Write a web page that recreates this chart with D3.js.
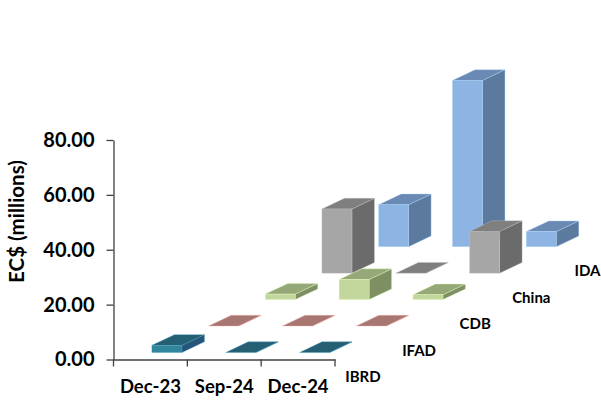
<!DOCTYPE html>
<html lang="en">
<head>
    <meta charset="UTF-8">
    <title>EC$ (millions)</title>
    <script src="https://d3js.org/d3.v7.min.js"></script>
    <style>
        body { margin: 0; padding: 0; background: #fff; }
        svg { display: block; }
        text { font-family: Lato, "Open Sans", sans-serif; font-weight: 700; fill: #000; }
        .axis path, .axis line, .edge-tick { stroke: #404040; stroke-width: 1.3px; fill: none; }
    </style>
</head>
<body>
    <div id="chart"></div>
    <script>
        // Data, front series first
        const periods = ["Dec-23", "Sep-24", "Dec-24"];
        const seriesNames = ["IBRD", "IFAD", "CDB", "China", "IDA"];
        const ibrd = [2.6, 0, 0];
        const ifad = [0, 0, 0];
        const cdb = [2, 7.3, 1.8];
        const china = [23.4, 0, 15.2];
        const ida = [15.3, 60.6, 5.5];
        const yTicks = [0, 20, 40, 60, 80];

        const seriesValues = [ibrd, ifad, cdb, china, ida];
        // front, top and side shades per series
        const shades = [
            ["#31859c", "#245f73", "#25567a"],
            ["#d99694", "#a87772", "#8f5f5c"],
            ["#c3d69b", "#95a878", "#7e8f63"],
            ["#a6a6a6", "#7f7f7f", "#6b6b6b"],
            ["#8db4e2", "#6a8ab3", "#5c7a9e"]
        ];

        const width = 601, height = 401;
        const barWidth = 30, sideX = 22.5, sideY = 10.7, floorLift = 7;

        const svg = d3.select("#chart").append("svg")
            .attr("width", width)
            .attr("height", height);

        const x = d3.scaleBand().domain(periods).range([113.5, 335]);
        const y = d3.scaleLinear().domain([0, 80]).range([359.5, 140]);
        // how far each series sits into the chart
        const depthX = d3.scalePoint().domain(seriesNames).range([0, 226.7]);
        const depthY = d3.scalePoint().domain(seriesNames).range([0, -105.8]);

        // Axes
        const yAxis = svg.append("g")
            .attr("class", "axis")
            .attr("transform", "translate(113.5,0)")
            .call(d3.axisLeft(y).tickValues(yTicks).tickFormat(d3.format(".2f"))
                .tickSize(7).tickSizeOuter(0).tickPadding(12));
        yAxis.selectAll("text").style("font-size", "20px");

        const xAxis = svg.append("g")
            .attr("class", "axis")
            .attr("transform", "translate(0,359.5)")
            .call(d3.axisBottom(x).tickSize(0).tickSizeOuter(0).tickPadding(20));
        xAxis.selectAll("text").style("font-size", "18.5px");

        // tick marks sit between the categories
        svg.selectAll("line.edge-tick")
            .data(periods.concat("end"))
            .enter().append("line")
            .attr("class", "edge-tick")
            .attr("x1", (d, i) => x.range()[0] + i * x.step())
            .attr("x2", (d, i) => x.range()[0] + i * x.step())
            .attr("y1", 359.5)
            .attr("y2", 366.5);

        svg.append("text")
            .attr("transform", "translate(24,221.5) rotate(-90)")
            .attr("text-anchor", "middle")
            .style("font-size", "20.5px")
            .text("EC$ (millions)");

        // Series names along the depth axis
        svg.selectAll("text.series")
            .data(seriesNames)
            .enter().append("text")
            .attr("class", "series")
            .attr("text-anchor", "middle")
            .attr("x", d => 363 + depthX(d) * 0.99)
            .attr("y", d => 382 + depthY(d))
            .style("font-size", "15px")
            .text(d => d);

        const pts = p => p.map(q => q.join(",")).join(" ");

        // Bars, back series first so the front ones overlap them
        seriesNames.slice().reverse().forEach(name => {
            const s = seriesNames.indexOf(name);
            const g = svg.append("g");
            periods.forEach((period, i) => {
                const value = seriesValues[s][i];
                const left = x(period) + x.bandwidth() / 2 + depthX(name) + 1.5;
                const right = left + barWidth;
                const base = y(0) - floorLift + depthY(name);
                const top = base - (y(0) - y(value));
                const edge = d3.color(shades[s][0]).brighter(0.5);

                g.append("polygon") // side
                    .attr("points", pts([[right, top], [right + sideX, top - sideY], [right + sideX, base - sideY], [right, base]]))
                    .attr("fill", shades[s][2])
                    .attr("stroke", edge).attr("stroke-width", 0.5).attr("stroke-opacity", 0.7);
                g.append("polygon") // top
                    .attr("points", pts([[left, top], [left + sideX, top - sideY], [right + sideX, top - sideY], [right, top]]))
                    .attr("fill", shades[s][1])
                    .attr("stroke", edge).attr("stroke-width", 0.5).attr("stroke-opacity", 0.7);
                if (value > 0) {
                    g.append("rect") // front
                        .attr("x", left)
                        .attr("y", top)
                        .attr("width", barWidth)
                        .attr("height", base - top)
                        .attr("fill", shades[s][0])
                        .attr("stroke", edge).attr("stroke-width", 0.5).attr("stroke-opacity", 0.7);
                }
            });
        });
    </script>
</body>
</html>
